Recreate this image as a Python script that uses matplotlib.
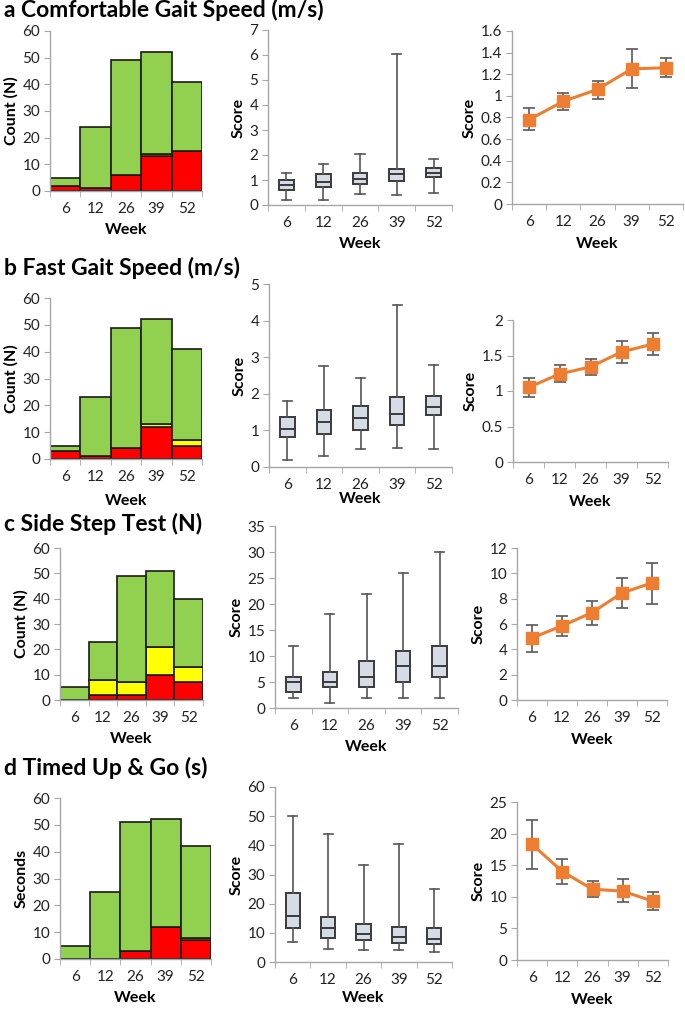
import matplotlib
matplotlib.use("Agg")
import matplotlib.pyplot as plt
from matplotlib.ticker import FixedLocator, FuncFormatter, MultipleLocator
import numpy as np

plt.rcParams['font.family'] = ['Lato', 'DejaVu Sans']

weeks = ['6', '12', '26', '39', '52']

# stacked count bars: red (bottom), yellow, total
count_total = {
    'a': [5, 24, 49, 52, 41],
    'b': [5, 23, 49, 52, 41],
    'c': [5, 23, 49, 51, 40],
    'd': [5, 25, 51, 52, 42],
}
count_red = {
    'a': [2, 1, 6, 13, 15],
    'b': [3, 1, 4, 12, 5],
    'c': [0, 2, 2, 10, 7],
    'd': [0, 0, 3, 12, 7],
}
count_yellow = {
    'a': [0, 0, 0, 1, 0],
    'b': [0, 0, 0, 1, 2],
    'c': [0, 6, 5, 11, 6],
    'd': [0, 0, 0, 0, 1],
}

# box plots: min, q1, median, q3, max
box_min = {'a': [0.2, 0.22, 0.43, 0.4, 0.48], 'b': [0.2, 0.3, 0.48, 0.52, 0.5],
           'c': [2, 1, 2, 2, 2], 'd': [6.7, 4.5, 4.2, 4.2, 3.5]}
box_q1 = {'a': [0.6, 0.72, 0.83, 0.95, 1.12], 'b': [0.83, 0.9, 1.0, 1.15, 1.42],
          'c': [3, 4, 4, 5, 6], 'd': [11.7, 8.3, 7.6, 6.4, 6.2]}
box_med = {'a': [0.8, 0.92, 1.05, 1.22, 1.28], 'b': [1.05, 1.22, 1.35, 1.45, 1.65],
           'c': [5, 5, 6, 8, 8], 'd': [15.8, 11.7, 9.7, 8.5, 7.8]}
box_q3 = {'a': [1.0, 1.22, 1.27, 1.43, 1.47], 'b': [1.37, 1.57, 1.68, 1.92, 1.95],
          'c': [6, 7, 9, 11, 12], 'd': [23.7, 15.6, 12.9, 12.1, 11.8]}
box_max = {'a': [1.28, 1.62, 2.02, 6.03, 1.83], 'b': [1.8, 2.75, 2.42, 4.43, 2.8],
           'c': [12, 18, 22, 26, 30], 'd': [50.2, 43.8, 33.3, 40.6, 25.2]}

# mean score with error bar limits
mean_score = {'a': [0.78, 0.95, 1.06, 1.25, 1.26], 'b': [1.05, 1.24, 1.34, 1.55, 1.66],
              'c': [4.9, 5.85, 6.9, 8.45, 9.25], 'd': [18.3, 14.0, 11.2, 10.9, 9.3]}
err_hi = {'a': [0.89, 1.03, 1.14, 1.43, 1.35], 'b': [1.19, 1.36, 1.45, 1.70, 1.81],
          'c': [5.95, 6.6, 7.8, 9.6, 10.85], 'd': [22.2, 16.0, 12.5, 12.8, 10.7]}
err_lo = {'a': [0.68, 0.87, 0.97, 1.07, 1.17], 'b': [0.91, 1.13, 1.22, 1.40, 1.51],
          'c': [3.8, 5.05, 5.95, 7.25, 7.6], 'd': [14.4, 12.0, 9.9, 9.1, 7.9]}

titles = {'a': 'a Comfortable Gait Speed (m/s)', 'b': 'b Fast Gait Speed (m/s)',
          'c': 'c Side Step Test (N)', 'd': 'd Timed Up & Go (s)'}
hist_ylabel = {'a': 'Count (N)', 'b': 'Count (N)', 'c': 'Count (N)', 'd': 'Seconds'}

W, H = 685, 1011
fig = plt.figure(figsize=(W / 100, H / 100), dpi=100)


def ax_at(x0, x1, ytop, ybot):
    return fig.add_axes([x0 / W, 1 - ybot / H, (x1 - x0) / W, (ybot - ytop) / H])


# pixel boxes per row: hist, box, line ; title y
layout = {
    'a': dict(t=10, hist=(50, 202, 31, 191), box=(268, 452, 30, 205), line=(512, 683, 31, 204)),
    'b': dict(t=268, hist=(50, 202, 298, 459), box=(269, 452, 284, 467), line=(513, 668, 320, 462)),
    'c': dict(t=524, hist=(60, 203, 548, 700), box=(275, 458, 526, 708), line=(517, 667, 548, 700)),
    'd': dict(t=768, hist=(60, 211, 798, 959), box=(275, 452, 787, 962), line=(517, 668, 802, 960)),
}
box_top = {'a': (7, 1), 'b': (5, 1), 'c': (35, 5), 'd': (60, 10)}
line_top = {'a': (1.6, 0.2), 'b': (2, 0.5), 'c': (12, 2), 'd': (25, 5)}

spine_col = '#a6a6a6'
x = np.arange(1, 6)


def style_axis(ax, ylabel, xpad=6):
    for s in ['top', 'right']:
        ax.spines[s].set_visible(False)
    for s in ['left', 'bottom']:
        ax.spines[s].set_color(spine_col)
        ax.spines[s].set_linewidth(1.0)
    ax.set_xlim(0.5, 5.5)
    ax.xaxis.set_major_locator(FixedLocator(x))
    ax.set_xticklabels(weeks)
    ax.xaxis.set_minor_locator(FixedLocator(np.arange(0.5, 6, 1)))
    ax.tick_params(axis='x', which='major', length=0, labelsize=11, pad=8, colors='#222222')
    ax.tick_params(axis='x', which='minor', length=4, color=spine_col, direction='out')
    ax.tick_params(axis='y', length=4, color=spine_col, labelsize=11, colors='#222222', pad=3)
    ax.yaxis.set_major_formatter(FuncFormatter(lambda v, p: '%g' % round(v, 4)))
    ax.set_xlabel('Week', fontsize=11.5, fontweight='bold', labelpad=xpad)
    ax.set_ylabel(ylabel, fontsize=11.5, fontweight='bold', labelpad=3)


for key in ['a', 'b', 'c', 'd']:
    L = layout[key]
    fig.text(4 / W, 1 - L['t'] / H, titles[key], fontsize=16.5, fontweight='bold',
             va='center', ha='left')

    # stacked histogram
    ax = ax_at(*L['hist'])
    tot = np.array(count_total[key])
    red = np.array(count_red[key])
    yel = np.array(count_yellow[key])
    green = tot - red - yel
    kw = dict(width=1.0, edgecolor='#1a1a1a', linewidth=1.2)
    ax.bar(x, red, color='#ff0000', **kw)
    ax.bar(x, yel, bottom=red, color='#ffff00', **kw)
    ax.bar(x, green, bottom=red + yel, color='#92d050', **kw)
    ax.set_ylim(0, 60)
    ax.yaxis.set_major_locator(MultipleLocator(10))
    style_axis(ax, hist_ylabel[key], xpad=7 if key == 'b' else 5)

    # box plot
    ax = ax_at(*L['box'])
    stats = []
    for i in range(5):
        stats.append(dict(whislo=box_min[key][i], q1=box_q1[key][i], med=box_med[key][i],
                          q3=box_q3[key][i], whishi=box_max[key][i]))
    ax.bxp(stats, positions=x, widths=0.4, showfliers=False, patch_artist=True,
           boxprops=dict(facecolor='#d6dce5', edgecolor='#3a3a3a', linewidth=1.4),
           medianprops=dict(color='#3a3a3a', linewidth=1.4),
           whiskerprops=dict(color='#555555', linewidth=1.2),
           capprops=dict(color='#555555', linewidth=1.2), capwidths=0.25)
    top, step = box_top[key]
    ax.set_ylim(0, top)
    ax.yaxis.set_major_locator(MultipleLocator(step))
    style_axis(ax, 'Score', xpad=0 if key == 'b' else (3 if key == 'd' else 5))

    # mean with error bars
    ax = ax_at(*L['line'])
    m = np.array(mean_score[key])
    yerr = [m - np.array(err_lo[key]), np.array(err_hi[key]) - m]
    ax.errorbar(x, m, yerr=yerr, fmt='none', ecolor='#595959', elinewidth=1.2,
                capsize=4, capthick=1.2, zorder=2)
    ax.plot(x, m, color='#ed7d31', linewidth=2.2, marker='s', markersize=8, zorder=3)
    top, step = line_top[key]
    ax.set_ylim(0, top)
    ax.yaxis.set_major_locator(MultipleLocator(step))
    style_axis(ax, 'Score')

fig.savefig('out.png', dpi=100)
